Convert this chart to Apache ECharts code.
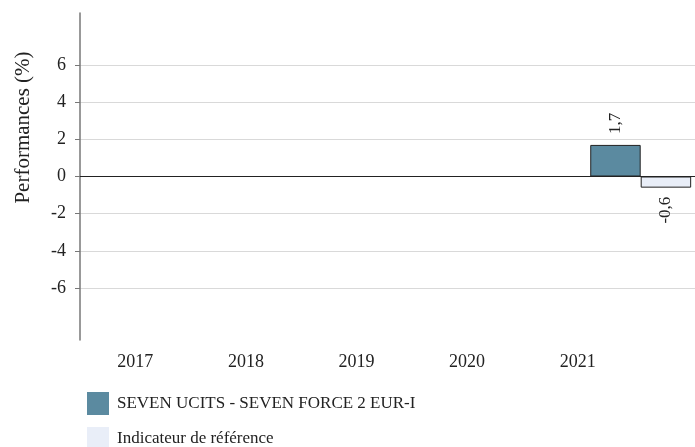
<!DOCTYPE html>
<html>
<head>
<meta charset="utf-8">
<script src="https://cdn.jsdelivr.net/npm/echarts@6/dist/echarts.min.js"></script>
<style>
  html, body { margin: 0; padding: 0; background: #fff; }
  #chart { width: 695px; height: 447px; }
</style>
</head>
<body>
<div id="chart"></div>
<script>
// years on the x axis
var years = ['2017', '2018', '2019', '2020', '2021'];
// performances (%), null = no data
var fundValues = [null, null, null, null, 1.7];
var benchValues = [null, null, null, null, -0.6];
// y tick labels
var yTicks = [-6, -4, -2, 0, 2, 4, 6];

var seriesNames = ['SEVEN UCITS - SEVEN FORCE 2 EUR-I', 'Indicateur de référence'];
var serif = 'Liberation Serif';

var chart = echarts.init(document.getElementById('chart'));

var barLabel = {
    show: true,
    rotate: 90,
    fontFamily: serif,
    fontSize: 17,
    color: '#222',
    formatter: function (p) {
        return String(p.value).replace('.', ',');
    }
};

function toData(values) {
    return values.map(function (v) {
        if (v === null) return null;
        if (v < 0) {
            return { value: v, label: { position: 'bottom', align: 'right', verticalAlign: 'middle', distance: 9 } };
        }
        return { value: v, label: { position: 'top', align: 'left', verticalAlign: 'middle', distance: 11 } };
    });
}

function legendBox(name, top) {
    return {
        orient: 'vertical',
        left: 82,
        top: top,
        itemWidth: 22,
        itemHeight: 23,
        icon: 'rect',
        itemStyle: { borderWidth: 0 },
        textStyle: { fontFamily: serif, fontSize: 17, color: '#222', padding: [0, 0, 0, 3] },
        data: [name]
    };
}

var option = {
    animation: false,
    color: ['#5b8aa0', '#e9eef8'],
    grid: [
        { left: 80, width: 623, top: 13, bottom: 107, outerBoundsMode: 'none' },
        { left: 80, width: 553, top: 13, bottom: 107, outerBoundsMode: 'none' }
    ],
    legend: [legendBox(seriesNames[0], 387), legendBox(seriesNames[1], 422)],
    xAxis: [{
        type: 'category',
        gridIndex: 0,
        data: years,
        axisLine: { show: false },
        axisTick: { show: false },
        axisLabel: { show: false },
        splitLine: { show: false }
    }, {
        type: 'category',
        gridIndex: 1,
        data: years,
        axisLine: { show: false },
        axisTick: { show: false },
        axisLabel: { margin: 13, fontFamily: serif, fontSize: 18, color: '#222' }
    }],
    yAxis: [{
        type: 'value',
        gridIndex: 0,
        min: -8.8,
        max: 8.8,
        name: 'Performances (%)',
        nameLocation: 'middle',
        nameGap: 46,
        nameTextStyle: { fontFamily: serif, fontSize: 21, color: '#222', padding: [0, 0, 0, 98] },
        axisLine: { show: true, lineStyle: { color: '#777', width: 1.5 } },
        axisTick: { show: true, length: 5, customValues: yTicks, lineStyle: { color: '#777' } },
        axisLabel: { customValues: yTicks, margin: 14, fontFamily: serif, fontSize: 18, color: '#222' },
        splitLine: { show: true, lineStyle: { color: '#d9d9d9' } }
    }, {
        type: 'value',
        gridIndex: 1,
        show: false,
        min: -8.8,
        max: 8.8
    }],
    series: [{
        name: seriesNames[0],
        type: 'bar',
        xAxisIndex: 0,
        yAxisIndex: 0,
        barGap: '0%',
        barCategoryGap: '19%',
        itemStyle: { borderColor: '#222', borderWidth: 1 },
        label: barLabel,
        data: toData(fundValues),
        markLine: {
            silent: true,
            symbol: 'none',
            label: { show: false },
            lineStyle: { color: '#222', type: 'solid', width: 1 },
            data: [{ yAxis: 0 }]
        }
    }, {
        name: seriesNames[1],
        type: 'bar',
        xAxisIndex: 0,
        yAxisIndex: 0,
        barGap: '0%',
        barCategoryGap: '19%',
        itemStyle: { borderColor: '#222', borderWidth: 1 },
        label: barLabel,
        data: toData(benchValues)
    }]
};

chart.setOption(option);
</script>
</body>
</html>
